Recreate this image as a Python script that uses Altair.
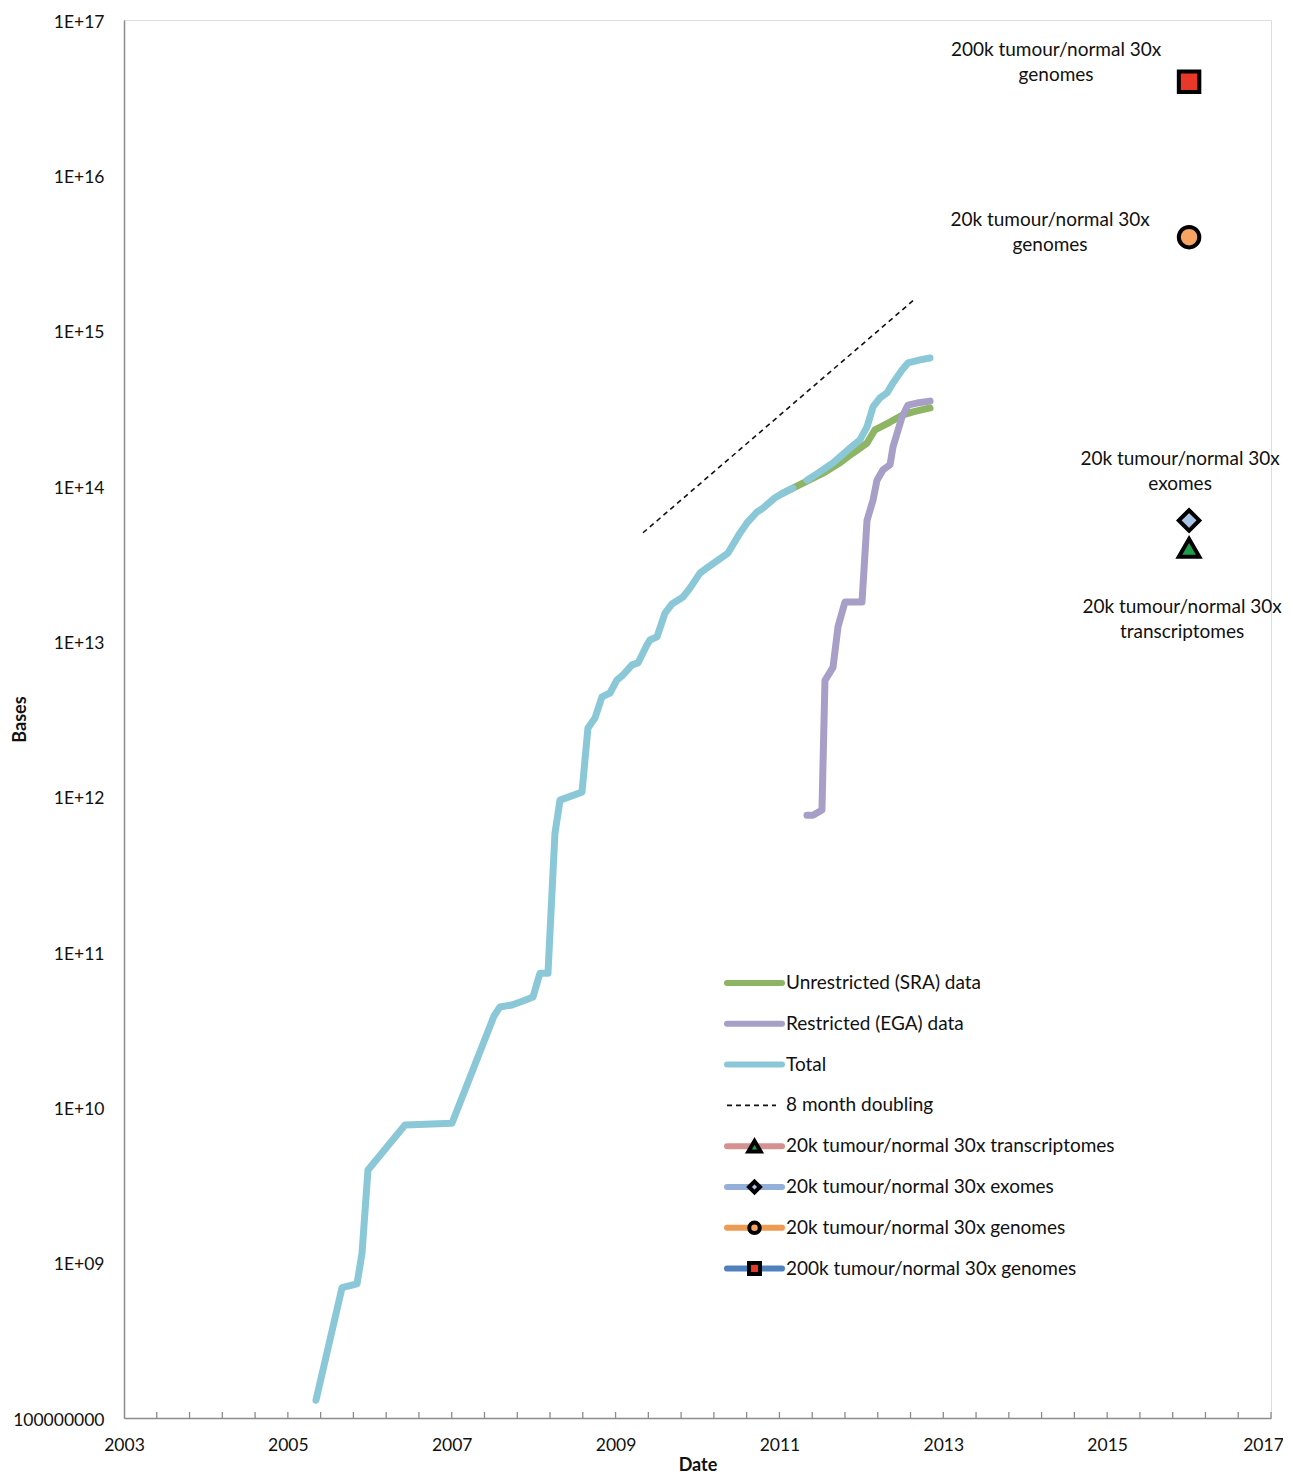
import altair as alt
import pandas as pd
import numpy as np

# ---------------- data ----------------
total_year = [2005.343, 2005.661, 2005.844, 2005.905, 2005.978, 2006.430, 2007.003,
              2007.516, 2007.589, 2007.736, 2007.870, 2007.992, 2008.077, 2008.175,
              2008.260, 2008.322, 2008.590, 2008.663, 2008.749, 2008.834, 2008.932,
              2009.017, 2009.091, 2009.200, 2009.274, 2009.384, 2009.420, 2009.506,
              2009.603, 2009.689, 2009.823, 2009.908, 2010.030, 2010.116, 2010.372,
              2010.519, 2010.604, 2010.726, 2010.799, 2010.946, 2011.043, 2011.165,
              2011.336, 2011.471, 2011.654, 2011.837, 2011.983, 2012.069, 2012.142,
              2012.227, 2012.313, 2012.386, 2012.496, 2012.569, 2012.716, 2012.838]
total_bases = [1.3e8, 6.9e8, 7.3e8, 1.15e9, 3.95e9, 7.7e9, 7.9e9,
               3.87e10, 4.43e10, 4.56e10, 4.84e10, 5.13e10, 7.3e10, 7.3e10,
               5.8e11, 9.5e11, 1.07e12, 2.77e12, 3.21e12, 4.39e12, 4.65e12,
               5.64e12, 6.07e12, 7.05e12, 7.26e12, 9.5e12, 1.02e13, 1.07e13,
               1.52e13, 1.74e13, 1.93e13, 2.2e13, 2.75e13, 2.97e13, 3.7e13,
               4.99e13, 5.78e13, 6.8e13, 7.2e13, 8.4e13, 9.0e13, 9.7e13,
               1.09e14, 1.21e14, 1.41e14, 1.71e14, 1.98e14, 2.4e14, 3.23e14,
               3.69e14, 3.97e14, 4.61e14, 5.58e14, 6.2e14, 6.48e14, 6.67e14]
total_break_year = 2011.25  # the Total line has a short gap here

sra_year = [2011.043, 2011.165, 2011.312, 2011.532, 2011.739, 2011.898, 2012.069,
            2012.166, 2012.350, 2012.508, 2012.630, 2012.838]
sra_bases = [9.0e13, 9.7e13, 1.06e14, 1.21e14, 1.41e14, 1.63e14, 1.89e14,
             2.3e14, 2.58e14, 2.87e14, 3.0e14, 3.18e14]

ega_year = [2011.336, 2011.410, 2011.519, 2011.556, 2011.654, 2011.715, 2011.800,
            2012.008, 2012.069, 2012.142, 2012.191, 2012.264, 2012.350, 2012.386,
            2012.496, 2012.569, 2012.679, 2012.838]
ega_bases = [7.6e11, 7.6e11, 8.2e11, 5.6e12, 6.8e12, 1.24e13, 1.79e13,
             1.79e13, 6.0e13, 8.1e13, 1.09e14, 1.27e14, 1.37e14, 1.78e14,
             2.78e14, 3.32e14, 3.42e14, 3.52e14]

doubling_year = [2009.335, 2012.655]
doubling_bases = [5.0e13, 1.6e15]

proj_keys = ["transcriptomes", "exomes", "genomes20k", "genomes200k"]
proj_names = ["20k tumour/normal 30x transcriptomes", "20k tumour/normal 30x exomes",
              "20k tumour/normal 30x genomes", "200k tumour/normal 30x genomes"]
proj_notes = ["20k tumour/normal 30x\ntranscriptomes", "20k tumour/normal 30x\nexomes",
              "20k tumour/normal 30x\ngenomes", "200k tumour/normal 30x\ngenomes"]
proj_year = [2016.0, 2016.0, 2016.0, 2016.0]
proj_bases = [4.0e13, 6.0e13, 4.0e15, 4.0e16]

x_label_years = list(range(2003, 2018, 2))
y_tick_values = [10.0 ** k for k in range(8, 18)]

# ---------------- styles ----------------
FONT = "Lato"
TXT = 19
C_SRA = "#8db563"
C_EGA = "#a79fc7"
C_TOT = "#8ac8d8"
AXIS_GRAY = "#8c8c8c"
shape_range = ["triangle-up", "diamond", "circle", "square"]
fill_range = ["#1e9e4a", "#a9c3e6", "#f7a463", "#e8382a"]
size_range = [420, 420, 270, 250]
legend_line_colors = ["#d4918f", "#93b0d8", "#ef9a52", "#4f81bd"]
legend_marker_sizes = [150, 120, 110, 120]

W, H = 1147, 1398

xs = alt.Scale(domain=[2003, 2017], nice=False, zero=False)
ys = alt.Scale(type="log", domain=[1e8, 1e17], nice=False)
xaxis = alt.Axis(values=x_label_years, format="d", title="Date", ticks=False,
                 grid=False, domainColor=AXIS_GRAY, domainWidth=1.5,
                 labelFont=FONT, labelFontSize=17.5, labelColor="#111",
                 labelFlush=False, labelOverlap=False,
                 labelOffset={"condition": {"test": "datum.value >= 2017", "value": -8},
                              "value": 0},
                 labelPadding=18, titleFont=FONT, titleFontSize=18,
                 titleFontWeight="bold", titlePadding=3, titleColor="#111")
yaxis = alt.Axis(values=y_tick_values, title="Bases", ticks=False, tickSize=0,
                 grid=False, domainColor=AXIS_GRAY, domainWidth=1.5,
                 labelFont=FONT, labelFontSize=17.5, labelColor="#111",
                 labelPadding=20, labelOffset=2, labelFlush=False, labelOverlap=False,
                 labelExpr="datum.value < 1.5e8 ? '100000000' : '1E+' + format(round(log(datum.value)/LN10), '02d')",
                 titleFont=FONT, titleFontSize=18, titleFontWeight="bold",
                 titleX=-104, titleY=H / 2, titleAngle=270, titleBaseline="middle",
                 titleAlign="center", titleColor="#111")

X = alt.X("year:Q", scale=xs, axis=xaxis)
Y = alt.Y("bases:Q", scale=ys, axis=yaxis)

df_total = pd.DataFrame({"year": total_year, "bases": total_bases})
df_total["seg"] = np.where(df_total["year"] < total_break_year, 1, 2)
df_sra = pd.DataFrame({"year": sra_year, "bases": sra_bases})
df_ega = pd.DataFrame({"year": ega_year, "bases": ega_bases})
df_dbl = pd.DataFrame({"year": doubling_year, "bases": doubling_bases})
df_proj = pd.DataFrame({"year": proj_year, "bases": proj_bases, "key": proj_keys,
                        "note": proj_notes})
df_ticks = pd.DataFrame({"year": np.round(np.arange(2003.4, 2017.01, 0.4), 1)})

line_style = dict(strokeWidth=7, strokeCap="round", strokeJoin="round")

sra = alt.Chart(df_sra).mark_line(color=C_SRA, **line_style).encode(x=X, y=Y, order="year:Q")
ega = alt.Chart(df_ega).mark_line(color=C_EGA, **line_style).encode(x=X, y=Y, order="year:Q")
tot = alt.Chart(df_total).mark_line(color=C_TOT, **line_style).encode(
    x=X, y=Y, detail="seg:N", order="year:Q")
dbl = alt.Chart(df_dbl).mark_line(color="#111", strokeWidth=1.6,
                                  strokeDash=[5, 4]).encode(x=X, y=Y)

proj_pts = alt.Chart(df_proj).mark_point(filled=True, stroke="black", strokeWidth=4,
                                         opacity=1).encode(
    x=X, y=Y,
    shape=alt.Shape("key:N", scale=alt.Scale(domain=proj_keys, range=shape_range), legend=None),
    fill=alt.Fill("key:N", scale=alt.Scale(domain=proj_keys, range=fill_range), legend=None),
    size=alt.Size("key:N", scale=alt.Scale(domain=proj_keys, range=size_range), legend=None),
)

# offsets of each note's first text line from its marker
note_offsets = {"genomes200k": (-133, -32), "genomes20k": (-139, -17),
                "exomes": (-9, -61), "transcriptomes": (-7, 59)}
notes = []
for k, (dx, dy) in note_offsets.items():
    notes.append(
        alt.Chart(df_proj).transform_filter(alt.datum.key == k).mark_text(
            font=FONT, fontSize=TXT, color="#111", align="center", baseline="middle",
            lineBreak="\n", lineHeight=25, dx=dx, dy=dy).encode(x=X, y=Y, text="note:N"))

ticks = alt.Chart(df_ticks).mark_rule(color=AXIS_GRAY, strokeWidth=1.3).encode(
    x=alt.X("year:Q", scale=xs, axis=xaxis), y=alt.value(H - 6), y2=alt.value(H))

# ---------------- legend (drawn inside the plot) ----------------
leg_labels = ["Unrestricted (SRA) data", "Restricted (EGA) data", "Total",
              "8 month doubling"] + proj_names
leg_x0, leg_x1, leg_tx = 603, 658, 662
leg_y0, leg_dy = 963, 40.8
legend = []
line_cols = [C_SRA, C_EGA, C_TOT, None] + legend_line_colors
for i, lab in enumerate(leg_labels):
    yy = leg_y0 + i * leg_dy
    one = pd.DataFrame({"label": [lab]})
    if line_cols[i] is None:
        legend.append(alt.Chart(one).mark_rule(color="#111", strokeWidth=1.6,
                                               strokeDash=[5, 4]).encode(
            x=alt.value(leg_x0), x2=alt.value(leg_x1 - 6), y=alt.value(yy)))
    else:
        legend.append(alt.Chart(one).mark_rule(color=line_cols[i], strokeWidth=6,
                                               strokeCap="round").encode(
            x=alt.value(leg_x0), x2=alt.value(leg_x1), y=alt.value(yy)))
    if i >= 4:
        j = i - 4
        legend.append(alt.Chart(one).mark_point(
            shape=shape_range[j], filled=True, fill=fill_range[j], stroke="black",
            strokeWidth=4, size=legend_marker_sizes[j], opacity=1).encode(
            x=alt.value((leg_x0 + leg_x1) / 2), y=alt.value(yy)))
    legend.append(alt.Chart(one).mark_text(font=FONT, fontSize=TXT, color="#111",
                                           align="left", baseline="middle").encode(
        x=alt.value(leg_tx), y=alt.value(yy), text="label:N"))

chart = alt.layer(sra, ega, tot, dbl, ticks, proj_pts, *notes, *legend).properties(
    width=W, height=H,
    autosize=alt.AutoSizeParams(type="none"),
    padding={"left": 116, "top": 12, "right": 12, "bottom": 56},
).configure_view(stroke=None).configure(background="white")

chart.save("out.html", embed_options={"renderer": "svg", "actions": False})
